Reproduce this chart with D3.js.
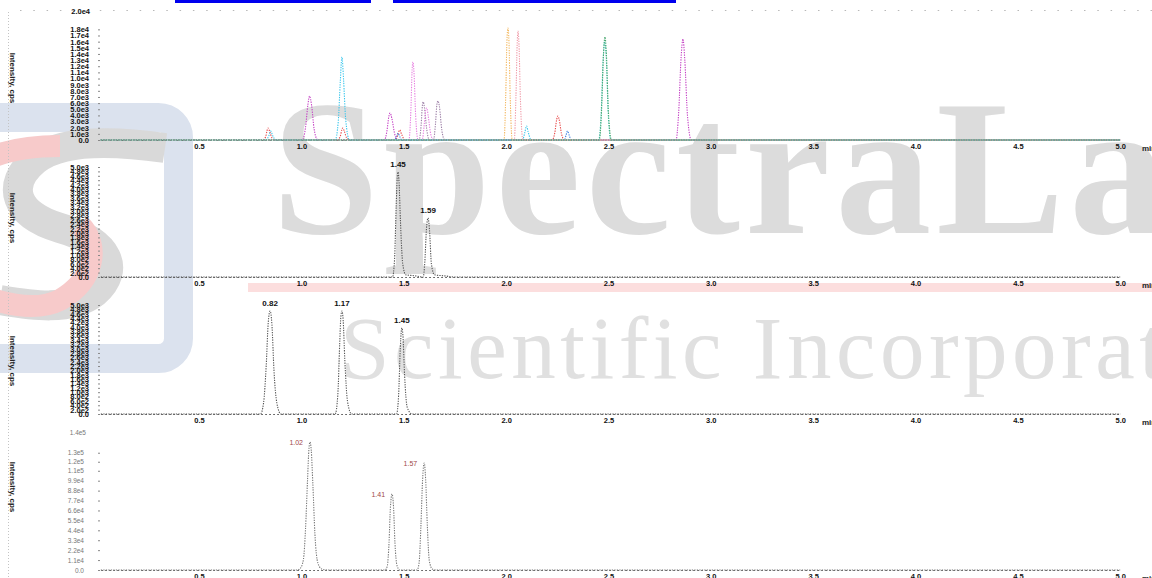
<!DOCTYPE html>
<html>
<head>
<meta charset="utf-8">
<script src="https://cdn.jsdelivr.net/npm/d3@7"></script>
<style>
body{margin:0;background:#fff;overflow:hidden}
svg{display:block}
</style>
</head>
<body>
<svg id="chart" width="1152" height="578"></svg>
<script>
// x ticks shared by all four chromatograms (min)
var xTicks = [0.5, 1.0, 1.5, 2.0, 2.5, 3.0, 3.5, 4.0, 4.5, 5.0];

// panel 1: overlaid MRM traces, [time, cps]
var redTrace = [[0.02,0],[0.81,0],[0.825,500],[0.832,1500],[0.837,1950],[0.845,1400],[0.855,400],[0.87,0],[1.175,0],[1.19,600],[1.197,1600],[1.202,1950],[1.21,1400],[1.22,400],[1.235,0],[1.46,0],[1.47,700],[1.48,1630],[1.49,900],[1.505,0],[2.225,0],[2.238,1200],[2.247,3300],[2.253,3900],[2.26,3200],[2.27,1100],[2.285,0],[5.0,0]];
var cyanTrace = [[0.02,0],[0.825,0],[0.84,600],[0.85,1460],[0.86,700],[0.875,0],[1.165,0],[1.18,3000],[1.19,9500],[1.198,13500],[1.206,9800],[1.216,3500],[1.235,0],[2.08,0],[2.092,1300],[2.1,2280],[2.108,1300],[2.122,0],[5.0,0]];
var magentaTrace = [[0.02,0],[1.005,0],[1.02,2000],[1.032,5800],[1.04,7160],[1.05,5600],[1.062,1800],[1.08,0],[1.405,0],[1.418,1500],[1.427,3800],[1.433,4390],[1.442,3500],[1.455,1100],[1.47,0],[2.83,0],[2.843,4500],[2.855,13500],[2.864,16430],[2.873,13000],[2.886,4000],[2.905,0],[5.0,0]];
var pinkTrace = [[0.02,0],[1.525,0],[1.535,5000],[1.541,11500],[1.545,12690],[1.55,11000],[1.558,4000],[1.57,0],[1.59,0],[1.6,2500],[1.607,4800],[1.612,5200],[1.62,3800],[1.632,900],[1.645,0],[5.0,0]];
var violetTrace = [[0.02,0],[1.575,0],[1.585,2500],[1.591,5600],[1.595,6200],[1.601,5300],[1.612,1800],[1.625,0],[1.645,0],[1.655,2600],[1.662,5800],[1.667,6350],[1.674,5500],[1.686,1600],[1.7,0],[5.0,0]];
var orangeTrace = [[0.02,0],[1.99,0],[1.998,7000],[2.004,16000],[2.009,18220],[2.014,16000],[2.02,7000],[2.03,0],[5.0,0]];
var salmonTrace = [[0.02,0],[2.04,0],[2.048,7000],[2.054,15500],[2.058,17730],[2.063,15500],[2.07,6500],[2.082,0],[5.0,0]];
var blueTrace = [[0.02,0],[1.455,0],[1.465,600],[1.472,1100],[1.48,600],[1.49,0],[2.285,0],[2.293,800],[2.3,1460],[2.308,800],[2.318,0],[5.0,0]];
var tealTrace = [[0.02,0],[2.452,0],[2.464,4000],[2.474,13000],[2.481,16000],[2.489,13500],[2.499,4200],[2.512,0],[5.0,0]];
var greenTrace = [[0.02,0],[2.455,0],[2.466,4500],[2.476,14000],[2.483,16760],[2.49,14000],[2.5,4500],[2.515,0],[5.0,0]];
var limeTrace = [[0.02,0],[5.0,0]];

// panels 2-4: single XICs
var xic2 = [[0.02,0],[1.445,0],[1.455,800],[1.463,3200],[1.468,4500],[1.472,4773],[1.477,4300],[1.484,2500],[1.495,600],[1.51,100],[1.55,60],[1.595,0],[1.603,700],[1.611,2200],[1.619,2682],[1.626,2100],[1.635,600],[1.65,100],[1.7,50],[1.75,0],[5.0,0]];
var xic3 = [[0.02,0],[0.8,0],[0.815,500],[0.828,2200],[0.838,4200],[0.847,4725],[0.856,4100],[0.866,2000],[0.88,500],[0.9,0],[1.165,0],[1.178,900],[1.187,3200],[1.193,4500],[1.198,4725],[1.204,4300],[1.212,2500],[1.225,600],[1.245,0],[1.465,0],[1.475,900],[1.483,3000],[1.488,3800],[1.491,3945],[1.496,3600],[1.504,1800],[1.517,300],[1.54,0],[5.0,0]];
var xic4 = [[0.02,0],[0.98,0],[0.995,2000],[1.01,12000],[1.02,45000],[1.03,100000],[1.037,135000],[1.042,141900],[1.048,133000],[1.056,95000],[1.066,40000],[1.08,8000],[1.1,1000],[1.13,0],[1.41,0],[1.42,5000],[1.428,30000],[1.435,70000],[1.443,84200],[1.45,70000],[1.457,30000],[1.467,5000],[1.48,0],[1.565,0],[1.575,8000],[1.584,50000],[1.592,100000],[1.6,118600],[1.607,100000],[1.615,50000],[1.625,10000],[1.64,1000],[1.66,0],[5.0,0]];

// peak annotations [time, cps, label]
var peaks2 = [[1.472,4773,'1.45'],[1.619,2682,'1.59']];
var peaks3 = [[0.847,4725,'0.82'],[1.198,4725,'1.17'],[1.491,3945,'1.45']];
var peaks4 = [[1.042,141900,'1.02'],[1.443,84200,'1.41'],[1.6,118600,'1.57']];

// panel 4 y ticks
var yTicks4 = [0, 11000, 22000, 33000, 44000, 55000, 66000, 77000, 88000, 99000, 110000, 120000, 130000];
var yLabels4 = ['0.0','1.1e4','2.2e4','3.3e4','4.4e4','5.5e4','6.6e4','7.7e4','8.8e4','9.9e4','1.1e5','1.2e5','1.3e5'];

var svg = d3.select('#chart');
var font = 'Liberation Sans, Arial, sans-serif';

// ---- watermark (logo + company name) ----
var wm = svg.append('g').attr('class', 'watermark');
wm.append('rect').attr('x', -25.5).attr('y', 117.5).attr('width', 204).attr('height', 241).attr('rx', 20)
  .attr('fill', 'none').attr('stroke', '#dbe2ee').attr('stroke-width', 29);
wm.append('path').attr('d', 'M165,148 C110,140 60,140 35,160 C5,185 15,215 60,228 C110,242 120,270 95,292 C70,312 30,305 0,300')
  .attr('fill', 'none').attr('stroke', '#d9d9d9').attr('stroke-width', 30);
wm.append('path').attr('d', 'M60,146 C30,146 10,150 -5,156 M80,225 C100,245 95,280 60,300 C40,310 15,306 -5,300')
  .attr('fill', 'none').attr('stroke', '#f7caca').attr('stroke-width', 22);
wm.append('rect').attr('x', 248).attr('y', 283).attr('width', 904).attr('height', 9).attr('fill', '#fcdede');
wm.append('text').attr('x', 272).attr('y', 233).text('SpectraLab')
  .attr('font-family', 'Liberation Serif, Times New Roman, serif').attr('font-weight', 'bold')
  .attr('font-size', 192).attr('letter-spacing', 5).attr('fill', '#dcdcdc');
wm.append('text').attr('x', 340).attr('y', 378).text('Scientific Incorporated')
  .attr('font-family', 'Liberation Serif, Times New Roman, serif')
  .attr('font-size', 89).attr('letter-spacing', 4.5).attr('fill', '#e0e0e0');

// ---- page frame bits ----
svg.append('rect').attr('x', 175).attr('y', 0).attr('width', 196).attr('height', 3).attr('fill', '#0000ee');
svg.append('rect').attr('x', 393).attr('y', 0).attr('width', 283).attr('height', 3).attr('fill', '#0000ee');
svg.append('line').attr('x1', 20).attr('x2', 1152).attr('y1', 10.5).attr('y2', 10.5)
  .attr('stroke', '#b8b8b8').attr('stroke-dasharray', '1.5,11.8');
svg.append('line').attr('x1', 8.5).attr('x2', 8.5).attr('y1', 12).attr('y2', 578)
  .attr('stroke', '#c4c4c4').attr('stroke-dasharray', '1,2');

var x = d3.scaleLinear().domain([0.02, 5.0]).range([100.8, 1120.2]);

var panels = [
  {base: 140, top: 12, max: 20822, traces: [
    [limeTrace, '#a6e070'], [redTrace, '#e84a4a'], [blueTrace, '#3f7fe0'], [violetTrace, '#9c7fa6'],
    [pinkTrace, '#e77fe0'], [magentaTrace, '#c43fc4'], [cyanTrace, '#39c6ec'], [orangeTrace, '#f3b860'],
    [salmonTrace, '#f09aa8'], [tealTrace, '#3cc0b8'], [greenTrace, '#4aa870']]},
  {base: 277, top: 167, max: 5000, traces: [[xic2, '#555']], peaks: peaks2},
  {base: 414, top: 305, max: 5000, traces: [[xic3, '#555']], peaks: peaks3},
  {base: 570, top: 441, max: 143000, traces: [[xic4, '#777']], peaks: peaks4}
];
var yCenters = [78, 218, 361, 487];
var sci = function(d){ return d === 0 ? '0.0' : d3.format('.1e')(d).replace('+', ''); };

panels.forEach(function(p, i){
  var y = d3.scaleLinear().domain([0, p.max]).range([p.base, p.top]);
  var g = svg.append('g').attr('class', 'panel');
  var line = d3.line().x(function(d){ return x(d[0]); }).y(function(d){ return y(d[1]); }).curve(d3.curveMonotoneX);

  // x axis: dotted baseline + bold minute labels
  var xa = g.append('g').attr('transform', 'translate(0,' + p.base + ')')
    .call(d3.axisBottom(x).tickValues(xTicks).tickSize(0).tickPadding(4).tickFormat(d3.format('.1f')));
  xa.select('.domain').attr('stroke', '#444').attr('stroke-dasharray', '1.5,2.5');
  xa.selectAll('text').attr('font-family', font).attr('font-weight', 'bold').attr('font-size', 7.5).attr('fill', '#111');
  g.append('text').attr('x', 1142).attr('y', p.base + 11).text('min')
    .attr('font-family', font).attr('font-weight', 'bold').attr('font-size', 8).attr('fill', '#222');

  // y axis
  var ya = g.append('g').attr('transform', 'translate(100,0)');
  if (i < 3) {
    ya.call(d3.axisLeft(y).tickValues(y.ticks(i === 0 ? 25 : 28).filter(function(d){ return y(d) >= 28; }))
      .tickSize(2).tickPadding(9).tickFormat(sci));
    ya.selectAll('text').attr('font-family', font).attr('font-weight', 'bold').attr('font-size', 7.5).attr('fill', '#111');
  } else {
    ya.call(d3.axisLeft(y).tickValues(yTicks4).tickSize(2).tickPadding(14)
      .tickFormat(function(d, k){ return yLabels4[k]; }));
    ya.selectAll('text').attr('font-family', font).attr('font-size', 6.5).attr('fill', '#777');
    g.append('text').attr('x', 86).attr('y', 435).attr('text-anchor', 'end').text('1.4e5')
      .attr('font-family', font).attr('font-size', 6.5).attr('fill', '#777');
  }
  ya.select('.domain').remove();
  ya.selectAll('line').attr('stroke', '#888');

  g.append('text').attr('transform', 'translate(10,' + yCenters[i] + ') rotate(90)')
    .attr('text-anchor', 'middle').text('Intensity, cps')
    .attr('font-family', font).attr('font-weight', 'bold').attr('font-size', 8).attr('fill', '#222');

  // traces
  g.selectAll('path.trace').data(p.traces).enter().append('path').attr('class', 'trace')
    .attr('d', function(d){ return line(d[0]); })
    .attr('fill', 'none').attr('stroke', function(d){ return d[1]; })
    .attr('stroke-width', 1.1).attr('stroke-dasharray', '1.3,1.2');

  // peak labels
  if (p.peaks) {
    g.selectAll('text.peak').data(p.peaks).enter().append('text').attr('class', 'peak')
      .attr('x', function(d){ return i === 3 ? x(d[0]) - 7 : x(d[0]); })
      .attr('y', function(d){ return i === 3 ? y(d[1]) + 3 : y(d[1]) - 5; })
      .attr('text-anchor', i === 3 ? 'end' : 'middle')
      .text(function(d){ return d[2]; })
      .attr('font-family', font).attr('font-weight', i === 3 ? 'normal' : 'bold')
      .attr('font-size', i === 3 ? 7 : 8).attr('fill', i === 3 ? '#a04848' : '#111');
  }
});

svg.append('text').attr('x', 90).attr('y', 14).attr('text-anchor', 'end').text('2.0e4')
  .attr('font-family', font).attr('font-weight', 'bold').attr('font-size', 7.5).attr('fill', '#111');
</script>
</body>
</html>
